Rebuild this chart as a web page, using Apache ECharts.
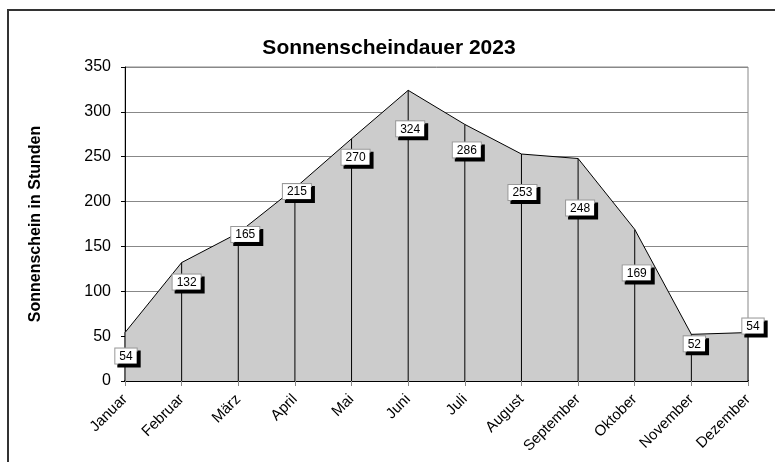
<!DOCTYPE html>
<html>
<head>
<meta charset="utf-8">
<title>Sonnenscheindauer 2023</title>
<script src="https://cdn.jsdelivr.net/npm/echarts@6/dist/echarts.min.js"></script>
<style>
  html, body { margin: 0; padding: 0; background: #fff; }
  #chart { width: 775px; height: 462px; }
</style>
</head>
<body>
<div id="chart"></div>
<script>
// Daten
var months = ['Januar', 'Februar', 'März', 'April', 'Mai', 'Juni', 'Juli',
  'August', 'September', 'Oktober', 'November', 'Dezember']
var sunHours = [54, 132, 165, 215, 270, 324, 286, 253, 248, 169, 52, 54]
var yMin = 0
var yMax = 350
var yStep = 50

// Verschiebung der Beschriftungen (Pixel, wie im Original)
var labelShift = [[1, 25], [5, 21], [7, 3], [2, 5], [4, 20], [2, 40], [2, 27],
  [1, 40], [2, 51], [2, 45], [3, 11], [5, -5]]

var chart = echarts.init(document.getElementById('chart'))

chart.setOption({
  animation: false,
  textStyle: { fontFamily: 'Arial, "Liberation Sans", sans-serif', color: '#000' },
  graphic: [
    {
      type: 'rect',
      shape: { x: 8, y: 10, width: 800, height: 500 },
      style: { fill: 'none', stroke: '#333', lineWidth: 2 },
      silent: true
    }
  ],
  title: {
    text: 'Sonnenscheindauer 2023',
    left: 384,
    top: 33,
    textAlign: 'center',
    textStyle: { fontSize: 21, fontWeight: 'bold', color: '#000' }
  },
  grid: {
    left: 125,
    right: 27,
    top: 67,
    bottom: 81,
    show: true,
    borderColor: '#888',
    borderWidth: 1
  },
  xAxis: {
    type: 'category',
    boundaryGap: false,
    data: months,
    axisLine: { lineStyle: { color: '#000', width: 2 } },
    axisTick: { length: 5, lineStyle: { color: '#888' } },
    axisLabel: { rotate: 45, fontSize: 15, color: '#000', margin: 16, interval: 0 },
    splitLine: { show: false }
  },
  yAxis: {
    type: 'value',
    min: yMin,
    max: yMax,
    interval: yStep,
    name: 'Sonnenschein in Stunden',
    nameLocation: 'middle',
    nameGap: 81,
    nameTextStyle: { fontSize: 16, fontWeight: 'bold', color: '#000' },
    axisLine: { show: true, lineStyle: { color: '#000', width: 1 } },
    axisTick: { show: true, length: 4, lineStyle: { color: '#000' } },
    axisLabel: { fontSize: 16, color: '#000', margin: 14 },
    splitLine: { lineStyle: { color: '#888', width: 1 } }
  },
  series: [
    {
      name: 'Fläche',
      type: 'line',
      data: sunHours,
      symbol: 'none',
      z: 2,
      lineStyle: { color: '#000', width: 1 },
      areaStyle: { color: '#cccccc', opacity: 1 }
    },
    {
      // senkrechte Linien + Datenbeschriftung
      name: 'Stunden',
      type: 'bar',
      barWidth: 1,
      z: 3,
      itemStyle: { color: '#000' },
      data: sunHours.map(function (v, i) {
        return {
          value: v,
          label: { offset: [labelShift[i][0], labelShift[i][1] - 9] }
        }
      }),
      label: {
        show: true,
        position: 'insideTop',
        distance: 0,
        fontSize: 12,
        color: '#000',
        backgroundColor: '#fff',
        borderColor: '#999',
        borderWidth: 1,
        padding: [2, 4, 1, 4],
        shadowColor: '#000',
        shadowBlur: 0,
        shadowOffsetX: 3,
        shadowOffsetY: 3
      }
    }
  ]
})
</script>
</body>
</html>
